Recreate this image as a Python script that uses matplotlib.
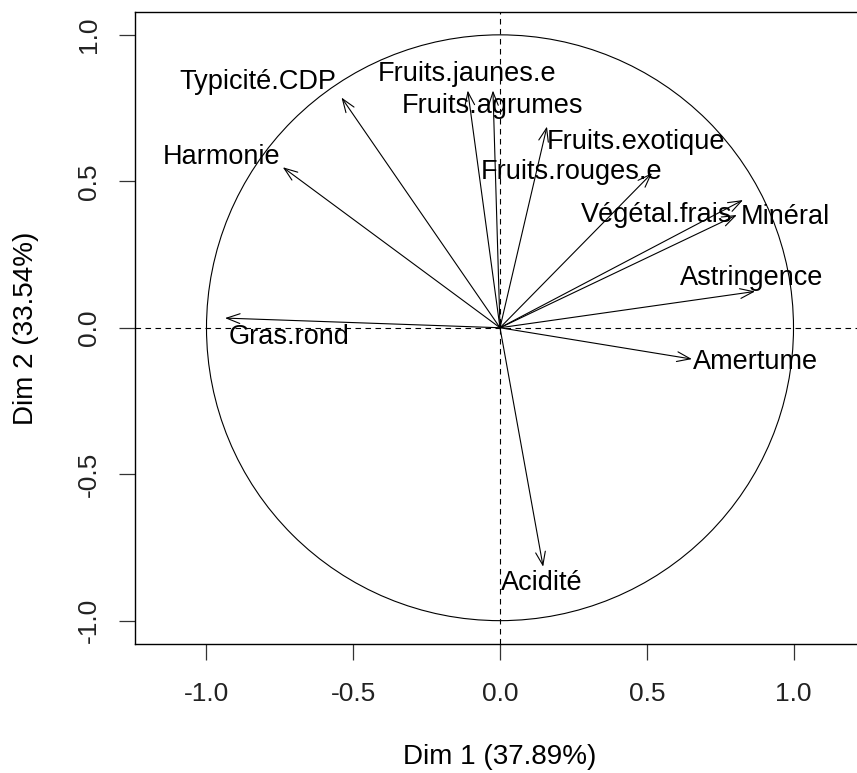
import matplotlib
matplotlib.use("Agg")
import matplotlib.pyplot as plt
from matplotlib.patches import Circle, FancyArrowPatch, ArrowStyle

# Variables and their coordinates on Dim 1 / Dim 2
variables = ["Typicité.CDP", "Harmonie", "Fruits.jaunes.e", "Fruits.agrumes",
             "Fruits.exotique", "Fruits.rouges.e", "Végétal.frais", "Minéral",
             "Astringence", "Amertume", "Gras.rond", "Acidité"]
dim1 = [-0.540, -0.740, -0.110, -0.024, 0.160, 0.518, 0.807, 0.828,
        0.869, 0.654, -0.937, 0.147]
dim2 = [0.786, 0.548, 0.810, 0.810, 0.687, 0.528, 0.385, 0.436,
        0.124, -0.107, 0.033, -0.816]
# label anchor positions (after automatic label repositioning)
lab_x = [-0.825, -0.947, -0.112, -0.024, 0.463, 0.245, 0.535, 0.974,
         0.859, 0.872, -0.719, 0.143]
lab_y = [0.840, 0.583, 0.866, 0.757, 0.634, 0.532, 0.385, 0.378,
         0.170, -0.117, -0.032, -0.872]

xlabel = "Dim 1 (37.89%)"
ylabel = "Dim 2 (33.54%)"
ticks = [-1.0, -0.5, 0.0, 0.5, 1.0]
tick_labels = ["-1.0", "-0.5", "0.0", "0.5", "1.0"]

plt.rcParams['font.family'] = ['Liberation Sans', 'DejaVu Sans']

W, H = 857, 773
fig = plt.figure(figsize=(W / 100, H / 100), dpi=100)
left, right, top, bottom = 135, 865, 12, 643.5
ax = fig.add_axes([left / W, 1 - bottom / H, (right - left) / W, (bottom - top) / H])
ax.set_xlim(-1.2436, 1.2436)
ax.set_ylim(-1.078, 1.078)

lw = 0.8
ax.add_patch(Circle((0, 0), 1.0, fill=False, lw=lw, color='black'))
ax.axhline(0, color='black', lw=lw, ls=(0, (5, 4)))
ax.axvline(0, color='black', lw=lw, ls=(0, (5, 4)))

style = ArrowStyle('->', head_length=0.6, head_width=0.22)
for x, y in zip(dim1, dim2):
    ax.add_patch(FancyArrowPatch((0, 0), (x, y), arrowstyle=style, mutation_scale=16,
                                 lw=lw, color='black', shrinkA=0, shrinkB=0))
for name, x, y in zip(variables, lab_x, lab_y):
    ax.text(x, y, name, ha='center', va='center', fontsize=19.5, color='black')

ax.set_xticks(ticks)
ax.set_xticklabels(tick_labels, fontsize=19, color='#222222')
ax.set_yticks(ticks)
ax.set_yticklabels(tick_labels, fontsize=19, rotation=90, va='center', color='#222222')
ax.tick_params(direction='out', length=11.5, width=0.9, color='#333333')
ax.tick_params(axis='x', pad=16)
ax.tick_params(axis='y', pad=13)
for s in ax.spines.values():
    s.set_linewidth(1.0)

fig.text(500 / W, 1 - 757 / H, xlabel, ha='center', va='center', fontsize=20)
fig.text(26 / W, 1 - 328 / H, ylabel, ha='center', va='center', fontsize=20, rotation=90)

fig.savefig("out.png", dpi=100)
